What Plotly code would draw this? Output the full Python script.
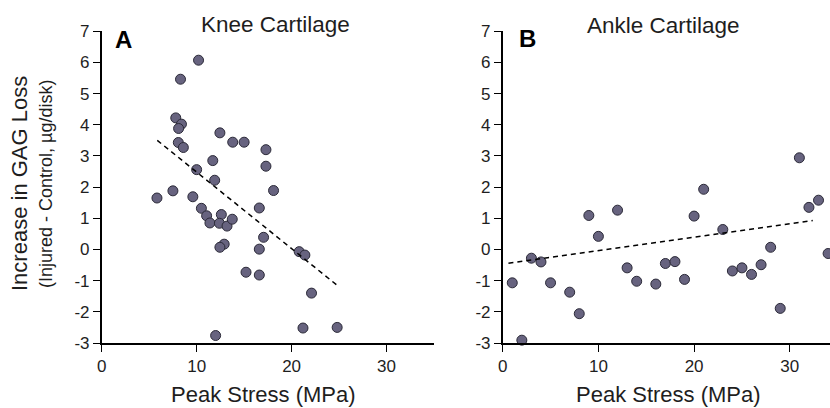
import plotly.graph_objects as go

# Panel A: Knee cartilage
knee_x = [10.2, 8.3, 7.8, 8.4, 8.1, 12.45, 13.8, 15.0, 8.07, 8.6, 17.3, 17.3, 11.7, 10.0, 11.9, 18.1,
          5.82, 7.5, 9.6, 10.5, 16.6, 11.05, 12.6, 11.4, 12.4, 13.2, 13.75, 17.05, 12.9, 12.45, 16.6,
          20.8, 21.4, 15.2, 16.6, 22.1, 12.0, 21.2, 24.8]
knee_y = [6.07, 5.46, 4.22, 4.02, 3.88, 3.74, 3.44, 3.44, 3.43, 3.27, 3.2, 2.67, 2.85, 2.56, 2.22, 1.89,
          1.65, 1.88, 1.69, 1.32, 1.33, 1.08, 1.12, 0.85, 0.84, 0.75, 0.97, 0.39, 0.17, 0.07, 0.01,
          -0.07, -0.18, -0.73, -0.82, -1.40, -2.76, -2.52, -2.50]
knee_fit_x = [5.85, 24.8]
knee_fit_y = [3.5, -1.15]

# Panel B: Ankle cartilage
ankle_x = [1, 2, 3, 4, 5, 7, 8, 9, 10, 12, 13, 14, 16, 17, 18, 19, 20, 21, 23, 24, 25, 26, 27, 28, 29,
           31, 32, 33, 34]
ankle_y = [-1.07, -2.91, -0.28, -0.40, -1.07, -1.37, -2.06, 1.09, 0.42, 1.26, -0.59, -1.02, -1.11, -0.45,
           -0.39, -0.96, 1.07, 1.93, 0.64, -0.69, -0.59, -0.80, -0.49, 0.07, -1.89, 2.94, 1.35, 1.58, -0.13]
ankle_fit_x = [0.6, 32.4]
ankle_fit_y = [-0.44, 0.93]

y_ticks = [-3, -2, -1, 0, 1, 2, 3, 4, 5, 6, 7]
y_tick_labels = ["-3", "-2", "-1", "0", "1", "2", "3", "4", "5", "6", "7"]
x_ticks = [0, 10, 20, 30]
x_tick_labels = ["0", "10", "20", "30"]

W, H = 830, 408
FONT = "Liberation Sans, Arial, Helvetica, sans-serif"
TXT = "#1e1e1e"
MARK = dict(size=10, color="#67637f", line=dict(color="#2b2a38", width=1))

fig = go.Figure()
fig.add_trace(go.Scatter(x=knee_x, y=knee_y, mode="markers", marker=MARK, xaxis="x", yaxis="y",
                         cliponaxis=False, showlegend=False))
fig.add_trace(go.Scatter(x=knee_fit_x, y=knee_fit_y, mode="lines", xaxis="x", yaxis="y",
                         line=dict(color="black", width=1.5, dash="5px,4px"), showlegend=False))
fig.add_trace(go.Scatter(x=ankle_x, y=ankle_y, mode="markers", marker=MARK, xaxis="x2", yaxis="y2",
                         cliponaxis=False, showlegend=False))
fig.add_trace(go.Scatter(x=ankle_fit_x, y=ankle_fit_y, mode="lines", xaxis="x2", yaxis="y2",
                         line=dict(color="black", width=1.5, dash="5px,4px"), showlegend=False))

ydom = [(H - 343) / H, (H - 31.2) / H]
axis_common = dict(showgrid=False, zeroline=False, showline=True, linecolor="black", linewidth=1.5,
                   ticks="outside", ticklen=7, tickwidth=1.3, tickcolor="black", automargin=False,
                   tickfont=dict(family=FONT, size=17, color=TXT))

fig.update_layout(
    template="none",
    width=W, height=H, autosize=False,
    margin=dict(l=0, r=0, t=0, b=0, pad=0),
    paper_bgcolor="white", plot_bgcolor="white",
    font=dict(family=FONT, color=TXT),
    xaxis=dict(domain=[101.7 / W, 434 / W], range=[0, 35], tickvals=x_ticks, ticktext=x_tick_labels,
               anchor="y", **axis_common),
    yaxis=dict(domain=ydom, range=[-3, 7], tickvals=y_ticks, ticktext=y_tick_labels,
               anchor="x", **axis_common),
    xaxis2=dict(domain=[502.7 / W, 1.0], range=[0, 34.2], tickvals=x_ticks, ticktext=x_tick_labels,
                anchor="y2", **axis_common),
    yaxis2=dict(domain=ydom, range=[-3, 7], tickvals=y_ticks, ticktext=y_tick_labels,
                anchor="x2", **axis_common),
)

def ann(text, x, y, size, bold=False, angle=0):
    fig.add_annotation(text=("<b>%s</b>" % text) if bold else text, x=x / W, y=1 - y / H,
                       xref="paper", yref="paper", showarrow=False, textangle=angle,
                       xanchor="center", yanchor="middle",
                       font=dict(family=FONT, size=size, color="black" if bold else TXT))

ann("Knee Cartilage", 275, 24, 22.5)
ann("Ankle Cartilage", 663, 25, 22.5)
ann("A", 123.5, 39, 24, bold=True)
ann("B", 527, 38, 24, bold=True)
ann("Peak Stress (MPa)", 263, 394, 22)
ann("Peak Stress (MPa)", 668, 394, 22)
ann("Increase in GAG Loss", 20, 184, 22, angle=-90)
ann("(Injured - Control, µg/disk)", 46, 184, 18, angle=-90)

fig.write_html("out.html", config={"displayModeBar": False},
               post_script="document.body.style.margin='0';document.body.style.overflow='hidden';")
